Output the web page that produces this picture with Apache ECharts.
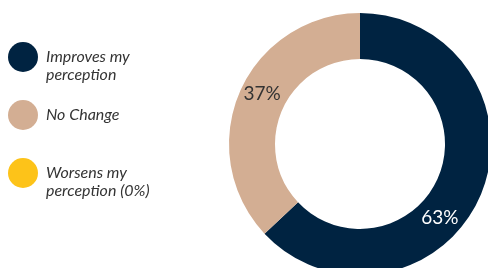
<!DOCTYPE html>
<html>
<head>
<meta charset="utf-8">
<script src="https://cdn.jsdelivr.net/npm/echarts@6/dist/echarts.min.js"></script>
<style>
  html, body { margin: 0; padding: 0; background: #fff; }
  #main { width: 488px; height: 268px; }
</style>
</head>
<body>
<div id="main"></div>
<script>
var chart = echarts.init(document.getElementById('main'));

// data
var categories = ['Improves my\nperception', 'No Change', 'Worsens my\nperception (0%)'];
var values = [63, 37, 0];
var colors = ['#002341', '#d3ae93', '#fdc319'];
var labelColors = ['#ffffff', '#333333', '#333333'];
var labelOffsets = [[-22, 30], [4, -6], [0, 0]];

var pieData = [];
for (var i = 0; i < categories.length; i++) {
  pieData.push({
    name: categories[i],
    value: values[i],
    itemStyle: {color: colors[i]},
    label: {color: labelColors[i], show: values[i] > 0, offset: labelOffsets[i]}
  });
}

var option = {
  animation: false,
  legend: {
    orient: 'vertical',
    left: 8,
    top: 30,
    padding: 0,
    icon: 'circle',
    itemWidth: 30,
    itemHeight: 30,
    itemGap: 16,
    selectedMode: false,
    data: categories,
    // two-line names: first line sits level with the dot
    formatter: function (name) {
      return name.indexOf('\n') >= 0 ? '\n' + name : name;
    },
    textStyle: {
      fontFamily: 'Lato',
      fontStyle: 'italic',
      fontSize: 16,
      lineHeight: 18,
      padding: [0, 0, 0, 3],
      color: '#333333'
    }
  },
  series: [{
    type: 'pie',
    center: [360, 144],
    radius: [85, 131],
    startAngle: 90,
    clockwise: true,
    silent: true,
    label: {
      show: true,
      position: 'inside',
      fontFamily: 'Lato',
      fontSize: 19,
      formatter: function (p) { return p.value + '%'; }
    },
    labelLine: {show: false},
    data: pieData
  }]
};
chart.setOption(option);
</script>
</body>
</html>
